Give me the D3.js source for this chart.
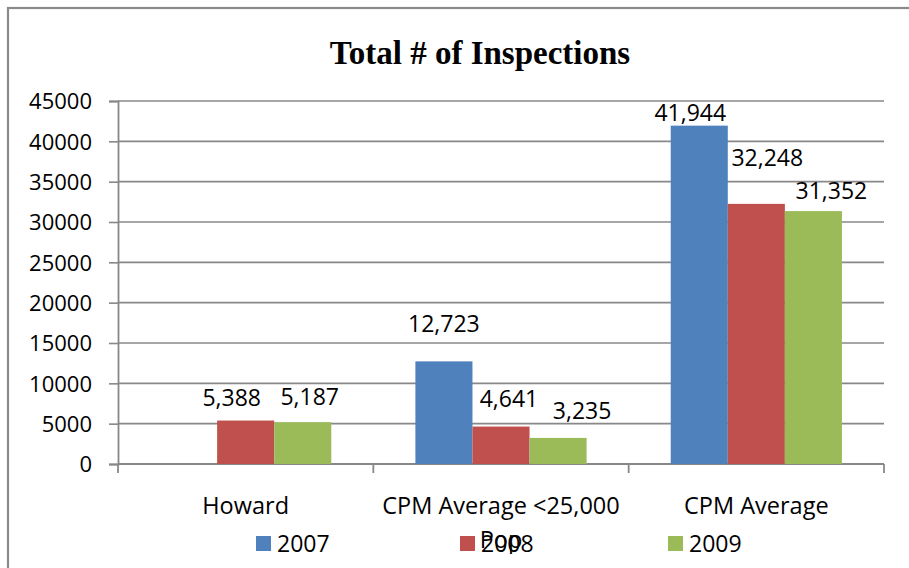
<!DOCTYPE html>
<html>
<head>
<meta charset="utf-8">
<script src="https://cdn.jsdelivr.net/npm/d3@7"></script>
<style>
  body { margin: 0; background: #fff; }
  svg { display: block; }
  text { font-family: "Open Sans", "Noto Sans", sans-serif; fill: #000; }
</style>
</head>
<body>
<div id="chart"></div>
<script>
const categories = ["Howard", "CPM Average <25,000 Pop", "CPM Average"];
const years = ["2007", "2008", "2009"];
const values2007 = [null, 12723, 41944];
const values2008 = [5388, 4641, 32248];
const values2009 = [5187, 3235, 31352];
const yTicks = [0, 5000, 10000, 15000, 20000, 25000, 30000, 35000, 40000, 45000];

// label nudges (px) so labels sit where excel put them
const labelDx = [[0, -14, 7], [0, 8, 24], [-9, 11, 18]];
const labelDy = [[0, -15, -17], [-29, -20, -19], [-5, -38, -12]];

const colors = { "2007": "#4f81bd", "2008": "#c0504d", "2009": "#9bbb59" };

const seriesValues = [values2007, values2008, values2009];
const data = categories.map((c, i) => ({
    cat: c,
    bars: years.map((y, j) => ({ year: y, value: seriesValues[j][i], ci: i, yi: j }))
}));

const W = 909, H = 568;
const margin = { top: 101, left: 118, right: 25, bottom: 104 };

const svg = d3.select("#chart").append("svg")
    .attr("width", W).attr("height", H);

// outer frame (right/bottom edges fall outside the picture)
svg.append("rect")
    .attr("x", 8).attr("y", 8)
    .attr("width", W + 20).attr("height", H + 20)
    .attr("fill", "none")
    .attr("stroke", "#8a8a8a")
    .attr("stroke-width", 2.2);

svg.append("text")
    .attr("x", 480).attr("y", 64)
    .attr("text-anchor", "middle")
    .style("font-family", "'Liberation Serif', 'DejaVu Serif', serif")
    .style("font-weight", "bold")
    .style("font-size", "33px")
    .text("Total # of Inspections");

const x0 = d3.scaleBand()
    .domain(categories)
    .range([margin.left, W - margin.right])
    .paddingInner(0).paddingOuter(0);

const x1 = d3.scaleBand()
    .domain(years)
    .range([0, x0.bandwidth()])
    .paddingInner(0)
    .paddingOuter(0.737);

const y = d3.scaleLinear()
    .domain([0, 45000])
    .range([H - margin.bottom, margin.top]);

const grid = "#888888";

// gridlines
svg.append("g").selectAll("line")
    .data(yTicks.slice(1))
    .enter().append("line")
    .attr("x1", margin.left).attr("x2", W - margin.right)
    .attr("y1", d => y(d)).attr("y2", d => y(d))
    .attr("stroke", grid).attr("stroke-width", 1.6);

// y axis
const yAxis = svg.append("g")
    .attr("transform", "translate(" + margin.left + ",0)")
    .call(d3.axisLeft(y).tickValues(yTicks).tickSize(9).tickPadding(17).tickFormat(d3.format("d")));
yAxis.select(".domain").attr("stroke", grid).attr("stroke-width", 1.8);
yAxis.selectAll(".tick line").attr("stroke", grid).attr("stroke-width", 1.6);
yAxis.selectAll(".tick text")
    .style("font-size", "22px")
    .attr("dy", "0.36em")
    .style("font-family", "'Open Sans', sans-serif");

// x axis: ticks at category boundaries
const xBase = H - margin.bottom;
svg.append("line")
    .attr("x1", margin.left).attr("x2", W - margin.right)
    .attr("y1", xBase).attr("y2", xBase)
    .attr("stroke", grid).attr("stroke-width", 2);

const bounds = categories.map(c => x0(c)).concat([x0(categories[categories.length - 1]) + x0.bandwidth()]);
svg.append("g").selectAll("line")
    .data(bounds)
    .enter().append("line")
    .attr("x1", d => d).attr("x2", d => d)
    .attr("y1", xBase).attr("y2", xBase + 9)
    .attr("stroke", grid).attr("stroke-width", 1.8);

// category labels
const catLabels = svg.append("g").selectAll("text")
    .data(categories)
    .enter().append("text")
    .attr("x", d => x0(d) + x0.bandwidth() / 2)
    .attr("y", 514)
    .attr("text-anchor", "middle")
    .style("font-size", "23.5px");
catLabels.each(function(d) {
    const t = d3.select(this);
    // Excel wrapped the long label, keeping "Pop" on a second line
    const parts = d === "CPM Average <25,000 Pop" ? ["CPM Average <25,000", "Pop"] : [d];
    parts.forEach((p, k) => {
        t.append("tspan")
            .attr("x", x0(d) + x0.bandwidth() / 2)
            .attr("dy", k === 0 ? 0 : 34)
            .text(p);
    });
});

// bars
const groups = svg.append("g").selectAll("g")
    .data(data)
    .enter().append("g")
    .attr("transform", d => "translate(" + x0(d.cat) + ",0)");

groups.selectAll("rect")
    .data(d => d.bars.filter(b => b.value != null))
    .enter().append("rect")
    .attr("x", d => x1(d.year))
    .attr("width", x1.bandwidth())
    .attr("y", d => y(d.value))
    .attr("height", d => y(0) - y(d.value))
    .attr("fill", d => colors[d.year]);

groups.selectAll("text")
    .data(d => d.bars.filter(b => b.value != null))
    .enter().append("text")
    .attr("x", d => x1(d.year) + x1.bandwidth() / 2 + labelDx[d.ci][d.yi])
    .attr("y", d => y(d.value) + labelDy[d.ci][d.yi])
    .attr("text-anchor", "middle")
    .style("font-size", "23px")
    .text(d => d3.format(",")(d.value));

// legend
const legendX = [256, 460, 668];
const legend = svg.append("g").selectAll("g")
    .data(years)
    .enter().append("g")
    .attr("transform", (d, i) => "translate(" + legendX[i] + ",536)");
legend.append("rect")
    .attr("width", 15).attr("height", 15)
    .attr("fill", d => colors[d]);
legend.append("text")
    .attr("x", 21).attr("y", 16)
    .style("font-size", "23px")
    .text(d => d);
</script>
</body>
</html>
